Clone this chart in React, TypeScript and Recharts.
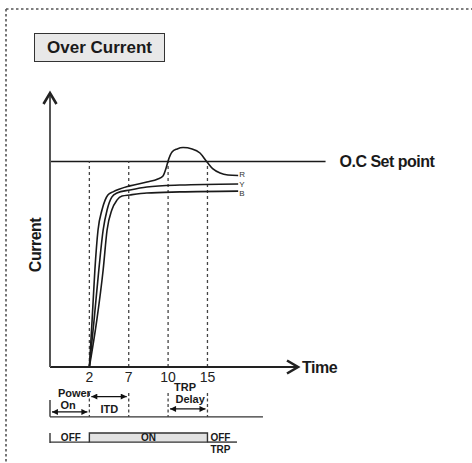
import React from "react";
import { LineChart, Line, XAxis, YAxis, ReferenceLine, ReferenceArea, ReferenceDot } from "recharts";

// x is a schematic slot (one slot per marked instant), y is current in % of full scale
const tickSlots = [1, 2, 3, 4];
const tickLabels = ["2", "7", "10", "15"];
const setPoint = 75;

const phaseR = [
  { x: 1, y: 0 }, { x: 1.07, y: 17.2 }, { x: 1.14, y: 35.4 }, { x: 1.22, y: 50 },
  { x: 1.32, y: 57.3 }, { x: 1.4, y: 60.9 }, { x: 1.47, y: 62.8 }, { x: 1.6, y: 63.9 },
  { x: 2.03, y: 66.1 }, { x: 2.46, y: 67.5 }, { x: 2.74, y: 68.6 }, { x: 2.87, y: 69.7 },
  { x: 2.95, y: 72.6 }, { x: 3.0, y: 75.2 }, { x: 3.1, y: 78.5 }, { x: 3.23, y: 79.6 },
  { x: 3.38, y: 80.1 }, { x: 3.61, y: 79.6 }, { x: 3.81, y: 78.1 }, { x: 3.99, y: 74.8 },
  { x: 4.14, y: 72.3 }, { x: 4.32, y: 70.8 }, { x: 4.52, y: 70.1 }, { x: 4.78, y: 69.9 },
];
const phaseY = [
  { x: 1, y: 0 }, { x: 1.12, y: 17.2 }, { x: 1.24, y: 35.4 }, { x: 1.35, y: 50 },
  { x: 1.45, y: 57.3 }, { x: 1.57, y: 62 }, { x: 1.7, y: 63.5 }, { x: 2.03, y: 64.6 },
  { x: 2.46, y: 65.7 }, { x: 3.3, y: 66.4 }, { x: 4.78, y: 66.8 },
];
const phaseB = [
  { x: 1, y: 0 }, { x: 1.19, y: 17.2 }, { x: 1.35, y: 35.4 }, { x: 1.45, y: 50 },
  { x: 1.57, y: 57.3 }, { x: 1.7, y: 60.9 }, { x: 1.83, y: 62.4 }, { x: 2.03, y: 62.8 },
  { x: 2.46, y: 63.5 }, { x: 3.3, y: 63.9 }, { x: 4.78, y: 64.2 },
];

const series = [
  { name: "R", data: phaseR },
  { name: "Y", data: phaseY },
  { name: "B", data: phaseB },
];

const ink = "#1a1a1a";
const font = "'Liberation Sans', Arial, sans-serif";
const narrow = "'Liberation Sans Narrow', 'Liberation Sans', Arial, sans-serif";

const smallBold = { fontSize: 11, fontWeight: 700, fill: ink, fontFamily: narrow };

function TextDot({ x, y, text, position = "center", size = 11 }: any) {
  return (
    <ReferenceDot
      x={x}
      y={y}
      r={0}
      fill="none"
      stroke="none"
      ifOverflow="visible"
      label={{ value: text, position, offset: 3, ...smallBold, fontSize: size }}
    />
  );
}

export default function App() {
  const row1 = -18.2;
  const row2 = -27.4;
  const barTop = -24.1;
  const nudge = [-1.6, 0, 2];

  return (
    <div style={{ position: "absolute", left: 0, top: 0, width: 472, height: 463, background: "#fff" }}>
      <svg width={472} height={463} style={{ position: "absolute", left: 0, top: 0 }}>
        <line x1={6} y1={9} x2={472} y2={9} stroke="#555" strokeWidth={1.6} strokeDasharray="2.5 2.5" />
        <line x1={6} y1={9} x2={6} y2={463} stroke="#555" strokeWidth={1.6} strokeDasharray="2.5 2.5" />
      </svg>

      <div style={{ position: "absolute", left: 0, top: 0 }}>
        <LineChart width={472} height={463} margin={{ top: 93, right: 174, bottom: 66, left: 20 }}>
          <defs>
            <marker id="axisArrow" viewBox="0 0 14 16" refX="12.5" refY="8" markerWidth="14" markerHeight="16"
              markerUnits="userSpaceOnUse" orient="auto-start-reverse" style={{ overflow: "visible" }}>
              <path d="M1.5 1.5 L12.5 8 L1.5 14.5" fill="none" stroke="#222" strokeWidth={2.6} />
            </marker>
            <marker id="spanArrow" viewBox="0 0 8 8" refX="8" refY="4" markerWidth="7" markerHeight="6"
              markerUnits="userSpaceOnUse" orient="auto-start-reverse">
              <path d="M0 0 L8 4 L0 8 Z" fill="#111" />
            </marker>
          </defs>

          <XAxis
            type="number"
            dataKey="x"
            domain={[0, 6.3]}
            allowDataOverflow
            ticks={tickSlots}
            tickFormatter={(v) => tickLabels[tickSlots.indexOf(v)]}
            tickLine={false}
            tickSize={0}
            tickMargin={5}
            tick={{ fill: "#222", fontSize: 14, fontFamily: font }}
            axisLine={{ stroke: "#222", strokeWidth: 2, markerEnd: "url(#axisArrow)" }}
            label={{
              content: ({ viewBox }: any) => (
                <text x={viewBox.x + viewBox.width + 4} y={viewBox.y} dy={6} fill={ink} fontSize={16}
                  fontWeight={700} fontFamily={font} letterSpacing={-0.5}>Time</text>
              ),
            }}
          />
          <YAxis
            type="number"
            domain={[0, 100]}
            allowDataOverflow
            width={30}
            tick={false}
            tickLine={false}
            axisLine={{ stroke: "#555", strokeWidth: 2, markerStart: "url(#axisArrow)" }}
            label={{
              content: ({ viewBox }: any) => {
                const cx = viewBox.x + viewBox.width / 2;
                const cy = viewBox.y + viewBox.height / 2 + 15;
                return (
                  <text x={cx} y={cy} transform={`rotate(-90 ${cx} ${cy})`} textAnchor="middle" dy={6}
                    fill={ink} fontSize={16} fontWeight={700} fontFamily={font} letterSpacing={-0.5}>Current</text>
                );
              },
            }}
          />

          {/* set point */}
          <ReferenceLine
            segment={[{ x: 0, y: setPoint }, { x: 7, y: setPoint }]}
            stroke={ink}
            strokeWidth={1.4}
            ifOverflow="visible"
            label={{ value: "O.C Set point", position: "right", offset: 14, fill: ink, fontSize: 16, fontWeight: 700, fontFamily: font, letterSpacing: -0.5 }}
          />

          {/* instants: above axis and in the timing row */}
          {tickSlots.map((s) => (
            <ReferenceLine key={`u${s}`} segment={[{ x: s, y: 0 }, { x: s, y: setPoint }]} stroke="#444"
              strokeWidth={1.3} strokeDasharray="3 3" ifOverflow="visible" />
          ))}
          {tickSlots.map((s) => (
            <ReferenceLine key={`d${s}`} segment={[{ x: s, y: -9.5 }, { x: s, y: row1 }]} stroke="#444"
              strokeWidth={1.3} strokeDasharray="3 2.5" ifOverflow="visible" />
          ))}

          {series.map((s) => (
            <Line key={s.name} data={s.data} dataKey="y" type="monotone" stroke={ink} strokeWidth={1.6}
              dot={false} isAnimationActive={false} />
          ))}
          {series.map((s, i) => {
            const last = s.data[s.data.length - 1];
            return (
              <ReferenceDot key={`l${s.name}`} x={last.x} y={last.y} r={0} fill="none" stroke="none"
                ifOverflow="visible"
                label={{
                  content: ({ viewBox }: any) => (
                    <text x={viewBox.x + viewBox.width + 1} y={viewBox.y + viewBox.height / 2 + nudge[i]} dy={3}
                      fill="#333" fontSize={8} fontFamily={font}>{s.name}</text>
                  ),
                }} />
            );
          })}

          {/* timing row 1 */}
          <ReferenceLine segment={[{ x: 0, y: row1 }, { x: 5.41, y: row1 }]} stroke="#333" strokeWidth={1.4} ifOverflow="visible" />
          <ReferenceLine segment={[{ x: 0, y: -12 }, { x: 0, y: row1 }]} stroke="#333" strokeWidth={1.4} ifOverflow="visible" />
          <ReferenceLine segment={[{ x: 0.05, y: -16.4 }, { x: 0.95, y: -16.4 }]} stroke="#111" strokeWidth={1.3}
            markerStart="url(#spanArrow)" markerEnd="url(#spanArrow)" ifOverflow="visible" />
          <ReferenceLine segment={[{ x: 1.05, y: -10.8 }, { x: 1.95, y: -10.8 }]} stroke="#111" strokeWidth={1.3}
            markerStart="url(#spanArrow)" markerEnd="url(#spanArrow)" ifOverflow="visible" />
          <ReferenceLine segment={[{ x: 3.05, y: -15.3 }, { x: 3.95, y: -15.3 }]} stroke="#111" strokeWidth={1.3}
            markerStart="url(#spanArrow)" markerEnd="url(#spanArrow)" ifOverflow="visible" />
          <TextDot x={0.62} y={-9.5} text="Power" />
          <TextDot x={0.46} y={-13.9} text="On" />
          <TextDot x={1.51} y={-15.5} text="ITD" />
          <TextDot x={3.43} y={-7.3} text="TRP" />
          <TextDot x={3.56} y={-11.7} text="Delay" />

          {/* timing row 2 */}
          <ReferenceLine segment={[{ x: 0, y: row2 }, { x: 1, y: row2 }]} stroke="#333" strokeWidth={1.4} ifOverflow="visible" />
          <ReferenceLine segment={[{ x: 0, y: barTop }, { x: 0, y: row2 - 0.3 }]} stroke="#333" strokeWidth={1.4} ifOverflow="visible" />
          <ReferenceArea x1={1} x2={4} y1={row2} y2={barTop} fill="#e2e2e2" fillOpacity={1} stroke="#333"
            strokeWidth={1.4} ifOverflow="visible"
            label={{ value: "ON", position: "center", ...smallBold, fontSize: 10 }} />
          <ReferenceLine segment={[{ x: 4, y: row2 }, { x: 4.75, y: row2 }]} stroke="#333" strokeWidth={1.4} ifOverflow="visible" />
          <TextDot x={0.53} y={-25.6} text="OFF" size={10} />
          <TextDot x={4} y={-25.6} text="OFF" position="right" size={10} />
          <TextDot x={4} y={-30.1} text="TRP" position="right" size={10} />
        </LineChart>
      </div>

      <div
        style={{
          position: "absolute",
          left: 34,
          top: 33,
          width: 129,
          height: 27,
          border: "1.5px solid #333",
          background: "#e8e8e8",
          fontFamily: font,
          fontWeight: 700,
          fontSize: 17,
          color: ink,
          display: "flex",
          alignItems: "center",
          justifyContent: "center",
        }}
      >
        Over Current
      </div>
    </div>
  );
}
